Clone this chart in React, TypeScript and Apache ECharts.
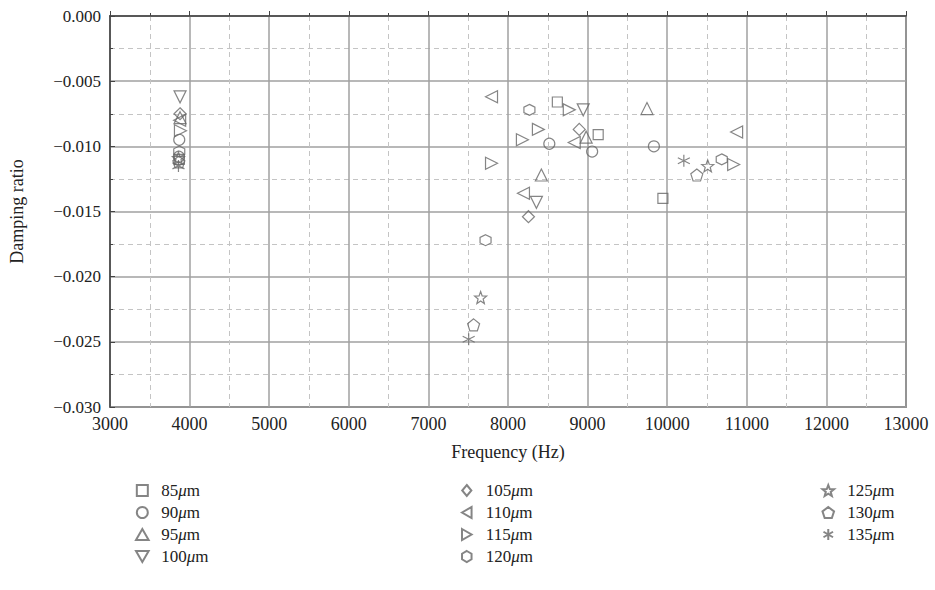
import React, { useEffect, useRef } from "react";
import * as echarts from "echarts";

const seriesNames = ["85μm", "90μm", "95μm", "100μm", "105μm", "110μm", "115μm", "120μm", "125μm", "130μm", "135μm"];

const s85: number[][] = [[3870, -0.0110], [8620, -0.0066], [9133, -0.0091], [9946, -0.0140]];
const s90: number[][] = [[3870, -0.0095], [3865, -0.0108], [8519, -0.0098], [9057, -0.0104], [9833, -0.0100]];
const s95: number[][] = [[3880, -0.0078], [8419, -0.0122], [8982, -0.0093], [9746, -0.0071]];
const s100: number[][] = [[3880, -0.0062], [8357, -0.0143], [8945, -0.0072]];
const s105: number[][] = [[3880, -0.0075], [8257, -0.0154], [8895, -0.0087]];
const s110: number[][] = [[3875, -0.0080], [7793, -0.0062], [8194, -0.0136], [8832, -0.0097], [10872, -0.0089]];
const s115: number[][] = [[3885, -0.0088], [7793, -0.0113], [8181, -0.0095], [8382, -0.0087], [8770, -0.0072], [10835, -0.0114]];
const s120: number[][] = [[3870, -0.0104], [7718, -0.0172], [8269, -0.0072], [10685, -0.0110]];
const s125: number[][] = [[3860, -0.0109], [7656, -0.0216], [10509, -0.0115]];
const s130: number[][] = [[3865, -0.0112], [7568, -0.0237], [10372, -0.0122]];
const s135: number[][] = [[3860, -0.0115], [7506, -0.0248], [10209, -0.0111]];

const seriesData = [s85, s90, s95, s100, s105, s110, s115, s120, s125, s130, s135];

const xTicks = { min: 3000, max: 13000, interval: 1000 };
const yTicks = { min: -0.03, max: 0, interval: 0.005 };

const symbols = [
  "path://M0,0L10,0L10,10L0,10Z",
  "circle",
  "path://M5,0L10,8.7L0,8.7Z",
  "path://M0,0L10,0L5,8.7Z",
  "path://M5,0L10,6L5,12L0,6Z",
  "path://M0,5L8.7,0L8.7,10Z",
  "path://M0,0L8.7,5L0,10Z",
  "path://M5,0L9.33,2.5L9.33,7.5L5,10L0.67,7.5L0.67,2.5Z",
  "path://M5,0L6.234,3.301L9.755,3.455L6.997,5.649L7.939,9.045L5,7.1L2.061,9.045L3.003,5.649L0.245,3.455L3.766,3.301Z",
  "path://M5,0L10,3.8L8.1,9.5L1.9,9.5L0,3.8Z",
  "path://M5,0L5,10M0.67,2.5L9.33,7.5M0.67,7.5L9.33,2.5",
];
const sizes = [10, 11, 12, 12, 12, 12, 12, 11, 12, 12, 12];

const FONT = "'Liberation Serif', 'DejaVu Serif', serif";
const GRAY = "#666";

export default function App() {
  const ref = useRef<HTMLDivElement>(null);
  useEffect(() => {
    if (!ref.current) return;
    const chart = echarts.init(ref.current, null, { renderer: "svg" });
    const legendText = {
      fontFamily: FONT,
      fontSize: 17,
      color: "#222",
      rich: { u: { fontFamily: FONT, fontSize: 17, fontStyle: "italic", color: "#222" } },
    };
    const fmt = (n: string) => `${n.replace("μm", "")}{u|μ}m`;
    const legendBase = {
      orient: "vertical",
      top: 482,
      height: 110,
      itemWidth: 28,
      itemHeight: 11,
      itemGap: 5,
      padding: 0,
      symbolKeepAspect: true,
      textStyle: legendText,
      formatter: fmt,
    };
    chart.setOption({
      animation: false,
      backgroundColor: "#fff",
      grid: { left: 107, right: 29, top: 16, bottom: 183, show: true, borderColor: "#444", borderWidth: 1.5 },
      xAxis: {
        type: "value",
        min: xTicks.min,
        max: xTicks.max,
        interval: xTicks.interval,
        name: "Frequency (Hz)",
        nameLocation: "middle",
        nameGap: 36,
        nameTextStyle: { fontFamily: FONT, fontSize: 18, color: "#222" },
        axisLine: { lineStyle: { color: "#444", width: 1.5 } },
        axisTick: { inside: true, length: 5, lineStyle: { color: "#444" } },
        minorTick: { show: true, splitNumber: 2, length: 3, lineStyle: { color: "#444" } },
        axisLabel: { fontFamily: FONT, fontSize: 18, color: "#222", margin: 8, formatter: (v: number) => String(v) },
        splitLine: { show: true, lineStyle: { color: "#a0a0a0", width: 1.5 } },
        minorSplitLine: { show: true, lineStyle: { color: "#c4c4c4", type: [5, 4], width: 1 } },
      },
      yAxis: {
        type: "value",
        min: yTicks.min,
        max: yTicks.max,
        interval: yTicks.interval,
        name: "Damping ratio",
        nameLocation: "middle",
        nameGap: 84,
        nameTextStyle: { fontFamily: FONT, fontSize: 18, color: "#222" },
        axisLine: { show: true, lineStyle: { color: "#444", width: 1.5 } },
        axisTick: { show: true, inside: true, length: 5, lineStyle: { color: "#444" } },
        minorTick: { show: true, splitNumber: 2, length: 3, lineStyle: { color: "#444" } },
        axisLabel: {
          fontFamily: FONT,
          fontSize: 17,
          color: "#222",
          margin: 9,
          formatter: (v: number) => (Math.abs(v) < 1e-9 ? "0.000" : (v < 0 ? "\u2212" : "") + Math.abs(v).toFixed(3)),
        },
        splitLine: { show: true, lineStyle: { color: "#a0a0a0", width: 1.5 } },
        minorSplitLine: { show: true, lineStyle: { color: "#c4c4c4", type: [5, 4], width: 1 } },
      },
      legend: [
        { ...legendBase, left: 135, data: seriesNames.slice(0, 4) },
        { ...legendBase, left: 461, data: seriesNames.slice(4, 8) },
        { ...legendBase, left: 821, data: seriesNames.slice(8, 11) },
      ],
      series: seriesNames.map((name, i) => ({
        name,
        type: "scatter",
        data: seriesData[i],
        symbol: symbols[i],
        symbolSize: sizes[i],
        itemStyle: { color: i === 10 ? "none" : "rgba(255,255,255,0)", borderColor: GRAY, borderWidth: 1.2 },
        emphasis: { disabled: true },
      })),
    });
    return () => chart.dispose();
  }, []);
  return <div ref={ref} style={{ width: 935, height: 590, position: "absolute", left: 0, top: 0 }} />;
}
